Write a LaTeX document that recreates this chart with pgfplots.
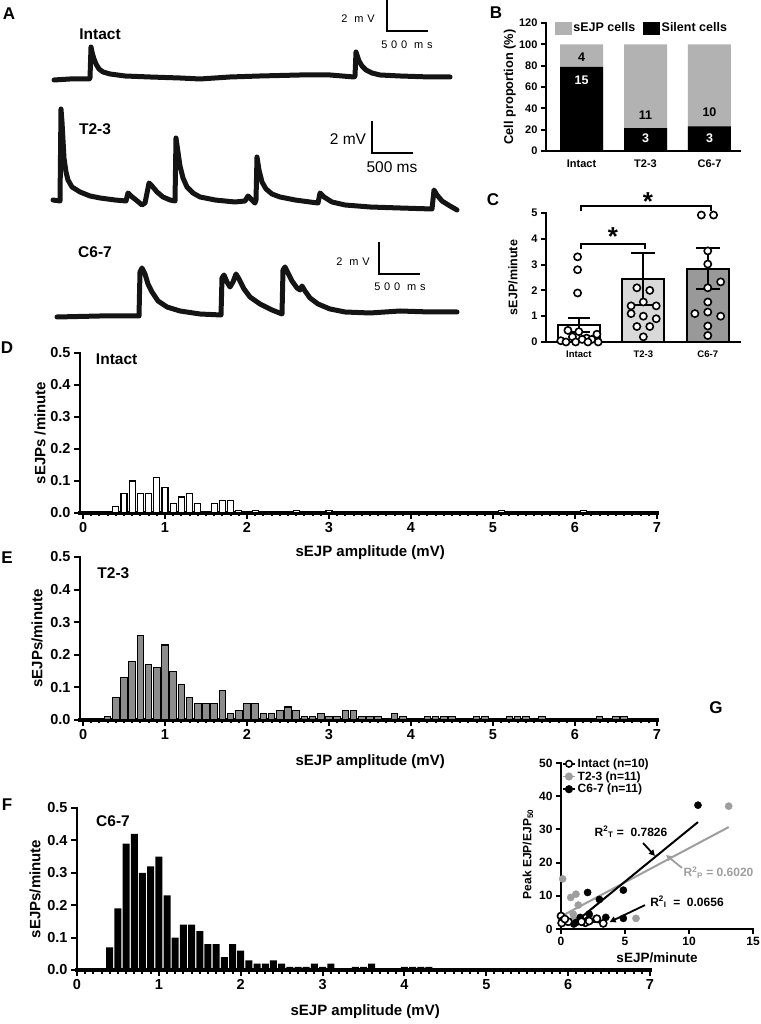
\documentclass[border=0pt]{standalone}
\usepackage{fontspec}
\setmainfont{Liberation Sans}
\newfontfamily\spaced{Liberation Sans}[LetterSpace=35]
\usepackage{pgfplots}
\pgfplotsset{compat=1.18}
\usetikzlibrary{arrows.meta}
\newcommand{\fs}[1]{\fontsize{#1}{#1}\selectfont}
\definecolor{sejp}{gray}{0.70}
\definecolor{tgray}{gray}{0.85}
\definecolor{cgray}{gray}{0.60}
\definecolor{egray}{gray}{0.55}
\definecolor{ggray}{gray}{0.62}
\pgfplotsset{
  base/.style={scale only axis, axis lines=left, axis line style={-, line width=2.5pt, line cap=rect},
    tick style={black, line width=2pt}, tick align=outside, major tick length=5pt, minor tick length=3pt,
    clip=false, /pgf/number format/assume math mode=true},
  hist/.style={base, width=577pt, height=160pt, xmin=-0.037, xmax=7, ymin=0, ymax=0.5,
    xtick={0,1,2,3,4,5,6,7}, minor x tick num=9, ytick={0,0.1,0.2,0.3,0.4,0.5},
    yticklabel style={/pgf/number format/.cd, fixed, fixed zerofill, precision=1},
    tick label style={font=\fs{14.5}\bfseries}, label style={font=\fs{15}\bfseries},
    x axis line style={line width=3.5pt}, xlabel={sEJP amplitude (mV)},
    major tick length=6pt, minor tick length=3.5pt},
  trace/.style={black!92, line width=5pt, line join=round, line cap=round},
  sbar/.style={black, line width=2pt, line cap=rect},
}
\begin{document}
\begin{tikzpicture}
\path[use as bounding box] (0pt,0pt) rectangle (760pt,1024pt);
% panel letters
\node[font=\fs{17}\bfseries] at (9pt,1010pt) {A};
\node[font=\fs{17}\bfseries] at (496pt,1011pt) {B};
\node[font=\fs{17}\bfseries] at (493pt,824pt) {C};
\node[font=\fs{17}\bfseries] at (7pt,676pt) {D};
\node[font=\fs{17}\bfseries] at (7pt,466pt) {E};
\node[font=\fs{17}\bfseries] at (7pt,219pt) {F};
\node[font=\fs{17}\bfseries] at (716pt,316pt) {G};

%================ A: traces (pixel-grid units)
\begin{axis}[at={(0pt,694pt)}, anchor=south west, scale only axis, width=470pt, height=330pt,
  xmin=0, xmax=470, ymin=0, ymax=330, y dir=reverse, axis lines=none, clip=false]
\addplot[trace] coordinates {(54,80) (70,79) (89,79) (90,78) (91,47) (92,52) (94,59) (96,64) (99,69) (103,72) (110,74) (125,76) (150,77) (180,78) (200,79) (230,77) (260,76) (300,75) (330,75) (354,77) (355,76) (356,52) (357,55) (359,61) (362,66) (366,70) (372,73) (380,75) (400,76) (430,77) (450,77)};
\addplot[trace] coordinates {(53,200) (60,201) (61,109) (62,122) (63,140) (64,158) (66,172) (68,180) (72,187) (80,192) (90,196) (100,198) (115,200) (126,201) (128,193) (131,196) (136,200) (142,205) (145,203) (147,193) (149,183) (152,186) (157,192) (163,197) (170,200) (175,201) (176,138) (178,152) (180,166) (183,178) (187,187) (193,193) (200,197) (215,200) (235,202) (245,201) (248,196) (251,199) (255,203) (256,200) (257,157) (259,170) (262,182) (266,189) (272,194) (280,197) (295,200) (310,202) (318,203) (320,193) (324,197) (332,202) (345,205) (370,207) (400,208) (432,209) (434,190) (437,195) (442,201) (450,206) (457,210)};
\addplot[trace] coordinates {(57,317) (100,316) (139,316) (140,272) (142,268) (145,274) (148,284) (152,292) (158,301) (167,307) (180,311) (200,314) (221,315) (222,278) (224,275) (227,282) (230,287) (233,282) (236,274) (239,279) (244,289) (250,297) (260,304) (272,310) (282,314) (283,270) (285,267) (288,273) (292,281) (297,288) (300,290) (302,286) (305,291) (310,298) (318,304) (330,309) (345,312) (370,313) (400,311) (430,312) (457,312)};
\addplot[sbar] coordinates {(387,1) (387,31) (427,31)};
\addplot[sbar] coordinates {(372,122) (372,153) (412,153)};
\addplot[sbar] coordinates {(379,243) (379,274) (419,274)};
\node[font=\fs{11}\spaced] at (axis cs:358,19) {2 mV};
\node[font=\fs{11}\spaced] at (axis cs:407,45) {500 ms};
\node[font=\fs{15.5}] at (axis cs:348,139) {2 mV};
\node[font=\fs{15.5}] at (axis cs:392,167) {500 ms};
\node[font=\fs{11}\spaced] at (axis cs:353,262) {2 mV};
\node[font=\fs{11}\spaced] at (axis cs:400,287) {500 ms};
\node[font=\fs{15.5}\bfseries] at (axis cs:100,34) {Intact};
\node[font=\fs{15.5}\bfseries] at (axis cs:95,129) {T2-3};
\node[font=\fs{15.5}\bfseries] at (axis cs:95,252) {C6-7};
\end{axis}

%================ B
\begin{axis}[base, at={(546pt,873pt)}, anchor=south west, width=194pt, height=128pt,
  xmin=-0.555, xmax=2.477, ymin=0, ymax=120, ytick={0,20,40,60,80,100,120},
  xtick={0,1,2}, xticklabels={Intact,T2-3,C6-7}, xtick style={draw=none},
  tick label style={font=\fs{11}\bfseries},
  ylabel={Cell proportion (\%)}, ylabel style={font=\fs{12.8}\bfseries, at={(axis description cs:-0.186,0.5)}, anchor=center},
  legend style={at={(axis description cs:0.03,1.035)}, anchor=north west, draw=none, fill=none,
    legend columns=2, font=\fs{12.5}\bfseries, /tikz/every even column/.append style={column sep=6pt}},
  ]
% sEJP cells (gray) fill the column to 100 %, silent cells (black) drawn over the lower part
\addplot[ybar, bar shift=0pt, bar width=43pt, fill=sejp, draw=none, forget plot] coordinates {(0,100) (1,100) (2,100)};
\addplot[ybar, bar shift=0pt, bar width=43pt, fill=black, draw=none, forget plot] coordinates {(0,78.95) (1,21.43) (2,23.08)};
\addlegendimage{legend image code/.code={\fill[sejp] (0pt,-6pt) rectangle (16pt,6pt);}}
\addlegendentry{sEJP cells}
\addlegendimage{legend image code/.code={\fill[black] (0pt,-6pt) rectangle (16pt,6pt);}}
\addlegendentry{Silent cells}
\node[font=\fs{12.5}\bfseries, black] at (axis cs:0,88) {4};
\node[font=\fs{12.5}\bfseries, white] at (axis cs:0,66) {15};
\node[font=\fs{12.5}\bfseries, black] at (axis cs:1,34) {11};
\node[font=\fs{12.5}\bfseries, white] at (axis cs:1,12) {3};
\node[font=\fs{12.5}\bfseries, black] at (axis cs:2,36) {10};
\node[font=\fs{12.5}\bfseries, white] at (axis cs:2,12) {3};
\end{axis}

%================ C
\begin{axis}[base, at={(546pt,682pt)}, anchor=south west, width=194pt, height=129pt,
  xmin=-0.51, xmax=2.5, ymin=0, ymax=5, ytick={0,1,2,3,4,5},
  xtick={0,1,2}, xticklabels={Intact,T2-3,C6-7}, xtick style={draw=none},
  yticklabel style={font=\fs{11}\bfseries}, xticklabel style={font=\fs{9.5}\bfseries},
  ylabel={sEJP/minute}, ylabel style={font=\fs{12.5}\bfseries, at={(axis description cs:-0.17,0.5)}, anchor=center},
  ]
\addplot[ybar, bar shift=0pt, bar width=42pt, fill=white, draw=black, line width=2pt] coordinates {(0,0.65)};
\addplot[ybar, bar shift=0pt, bar width=42pt, fill=tgray, draw=black, line width=2pt] coordinates {(1,2.44)};
\addplot[ybar, bar shift=0pt, bar width=42pt, fill=cgray, draw=black, line width=2pt] coordinates {(2,2.83)};
\addplot[only marks, mark=*, mark size=3.6pt, mark options={fill=white, draw=black, line width=1.6pt}] coordinates {
 (-0.02,3.3) (-0.02,2.8) (-0.02,1.9) (-0.17,0.45) (0.0,0.4) (0.28,0.3) (-0.1,0.2) (0.12,0.15) (0.2,0.1) (-0.28,0.05) (0.05,0.1) (-0.2,0.0) (-0.05,0.0) (0.14,0.0) (0.3,0.0)
 (0.9,2.1) (1.1,2.0) (1.0,1.55) (0.81,1.4) (1.2,1.4) (0.81,1.1) (1.0,1.0) (1.2,0.9) (0.9,0.6) (1.1,0.6) (1.0,0.2)
 (1.9,4.92) (2.09,4.92) (2.0,3.53) (2.0,3.02) (2.2,2.33) (2.0,2.1) (2.0,1.55) (2.0,1.16) (1.8,1.1) (2.2,1.0) (2.0,0.62) (2.0,0.25)};
\addplot[sbar] coordinates {(0,0.37) (0,0.93)};
\addplot[sbar] coordinates {(-0.16,0.93) (0.16,0.93)};
\addplot[sbar] coordinates {(-0.16,0.37) (0.16,0.37)};
\addplot[sbar] coordinates {(1,1.45) (1,3.43)};
\addplot[sbar] coordinates {(0.83,3.43) (1.17,3.43)};
\addplot[sbar] coordinates {(0.83,1.45) (1.17,1.45)};
\addplot[sbar] coordinates {(2,2.05) (2,3.65)};
\addplot[sbar] coordinates {(1.83,3.65) (2.17,3.65)};
\addplot[sbar] coordinates {(1.83,2.05) (2.17,2.05)};
\addplot[sbar] coordinates {(0.03,3.64) (0.03,3.8) (1.02,3.8) (1.02,3.64)};
\addplot[sbar] coordinates {(0.03,5.12) (0.03,5.27) (2.05,5.27) (2.05,5.12)};
\node[font=\fs{26}\bfseries] at (axis cs:0.53,4.1) {*};
\node[font=\fs{26}\bfseries] at (axis cs:1.07,5.46) {*};
\end{axis}

%================ D
\begin{axis}[hist, at={(80pt,511pt)}, anchor=south west, height=160pt,
  ylabel={sEJPs /minute},
  xlabel style={at={(axis description cs:0.503,-0.25)}, anchor=center},
  ylabel style={at={(axis description cs:-0.069,0.5)}, anchor=center}]
\addplot[ybar, bar shift=0pt, bar width=6pt, fill=white, draw=black, line width=1.1pt] coordinates {
 (0.4,0.02) (0.5,0.06) (0.6,0.10) (0.7,0.06) (0.8,0.06) (0.9,0.11) (1.0,0.08) (1.1,0.03) (1.2,0.05) (1.3,0.06) (1.4,0.03) (1.6,0.03) (1.7,0.04) (1.8,0.04) (1.9,0.008) (2.1,0.008) (2.6,0.008) (3.0,0.008) (5.1,0.008) (6.1,0.008)};
\node[font=\fs{15.5}\bfseries] at (axis cs:0.41,0.48) {Intact};
\end{axis}

%================ E
\begin{axis}[hist, at={(80pt,304pt)}, anchor=south west, height=163pt,
  ylabel={sEJPs/minute},
  xlabel style={at={(axis description cs:0.503,-0.258)}, anchor=center},
  ylabel style={at={(axis description cs:-0.0745,0.5)}, anchor=center}]
\addplot[ybar, bar shift=0pt, bar width=6.6pt, fill=egray, draw=black, line width=1.1pt] coordinates {
 (0.3,0.01) (0.4,0.07) (0.5,0.13) (0.6,0.18) (0.7,0.26) (0.8,0.17) (0.9,0.16) (1.0,0.23) (1.1,0.15) (1.2,0.11) (1.3,0.07) (1.4,0.05) (1.5,0.05) (1.6,0.05) (1.7,0.09) (1.8,0.02) (1.9,0.03) (2.0,0.05) (2.1,0.05) (2.2,0.02) (2.3,0.02) (2.4,0.03) (2.5,0.04) (2.6,0.03) (2.7,0.01) (2.8,0.01) (2.9,0.02) (3.0,0.01) (3.1,0.01) (3.2,0.03) (3.3,0.03) (3.4,0.01) (3.5,0.01) (3.6,0.01) (3.8,0.02) (3.9,0.01) (4.2,0.01) (4.3,0.01) (4.4,0.01) (4.5,0.01) (4.8,0.01) (4.9,0.01) (5.2,0.01) (5.3,0.01) (5.4,0.01) (5.6,0.01) (6.3,0.01) (6.5,0.01) (6.6,0.01)};
\node[font=\fs{15.5}\bfseries] at (axis cs:0.37,0.45) {T2-3};
\end{axis}

%================ F
\begin{axis}[hist, at={(77pt,54pt)}, anchor=south west, width=573pt, height=162pt, xmin=0,
  ylabel={sEJPs/minute},
  xlabel style={at={(axis description cs:0.503,-0.259)}, anchor=center},
  ylabel style={at={(axis description cs:-0.073,0.5)}, anchor=center}]
\addplot[ybar, bar shift=0pt, bar width=7pt, fill=black, draw=none] coordinates {
 (0.4,0.07) (0.5,0.19) (0.6,0.39) (0.7,0.42) (0.8,0.30) (0.9,0.32) (1.0,0.35) (1.1,0.23) (1.2,0.10) (1.3,0.14) (1.4,0.14) (1.5,0.12) (1.6,0.08) (1.7,0.08) (1.8,0.04) (1.9,0.08) (2.0,0.06) (2.1,0.03) (2.2,0.02) (2.3,0.02) (2.4,0.03) (2.5,0.02) (2.6,0.01) (2.7,0.01) (2.8,0.01) (2.9,0.02) (3.0,0.01) (3.1,0.02) (3.4,0.01) (3.5,0.01) (3.6,0.02) (4.0,0.01) (4.1,0.01) (4.2,0.01) (4.3,0.01)};
\node[font=\fs{15.5}\bfseries] at (axis cs:0.44,0.46) {C6-7};
\end{axis}

%================ G
\begin{axis}[base, at={(561pt,95pt)}, anchor=south west, width=192pt, height=166pt,
  xmin=0, xmax=15, ymin=0, ymax=50, xtick={0,5,10,15}, ytick={0,10,20,30,40,50},
  tick label style={font=\fs{12}\bfseries},
  xlabel={sEJP/minute}, xlabel style={font=\fs{13.5}\bfseries, at={(axis description cs:0.5,-0.175)}, anchor=center},
  ylabel={Peak EJP/EJP\textsubscript{50}}, ylabel style={font=\fs{12}\bfseries, at={(axis description cs:-0.172,0.45)}, anchor=center},
  legend style={at={(axis description cs:0.0,1.045)}, anchor=north west, draw=none, fill=none, font=\fs{12}\bfseries, row sep=-1.5pt, inner sep=1pt},
  legend cell align=left,
  legend image code/.code={\draw[mark repeat=2,mark phase=2,#1] plot coordinates {(0pt,0pt) (6pt,0pt) (12pt,0pt)};},
  ]
\addlegendimage{black, line width=1.5pt, mark=*, mark size=3.3pt, mark options={fill=white, line width=1.5pt}}
\addlegendentry{Intact (n=10)}
\addlegendimage{ggray, line width=1.5pt, mark=*, mark size=3.3pt}
\addlegendentry{T2-3 (n=11)}
\addlegendimage{black, line width=1.5pt, mark=*, mark size=3.3pt}
\addlegendentry{C6-7 (n=11)}
\addplot[ggray, line width=2pt, forget plot] coordinates {(0.1,4.0) (13.1,30.7)};
\addplot[black, line width=2pt, forget plot] coordinates {(1.0,1.7) (10.7,32.2)};
\addplot[black, line width=1.5pt, forget plot] coordinates {(0,2.8) (3.3,1.9)};
\addplot[only marks, mark=*, mark size=3.6pt, ggray, forget plot] coordinates {(0.13,15.1) (0.76,9.5) (1.17,10.5) (1.35,7.2) (0.95,4.5) (5.86,3.2) (13.1,37.0) (1.0,3.0) (1.5,2.5) (2.3,3.5) (0.5,2.0)};
\addplot[only marks, mark=*, mark size=3.6pt, black, forget plot] coordinates {(2.08,11.0) (3.0,8.9) (4.87,11.7) (3.5,3.5) (4.87,3.2) (1.5,3.5) (2.2,4.5) (10.7,37.3) (2.0,2.5) (1.2,2.0) (1.0,1.5)};
\addplot[only marks, mark=*, mark size=3.6pt, mark options={fill=white, draw=black, line width=1.6pt}, forget plot] coordinates {(0.0,3.9) (0.13,2.5) (0.57,2.2) (1.9,1.9) (2.8,3.1) (3.3,1.7) (0.05,1.8) (0.3,3.0) (1.6,2.2) (2.2,2.4)};
\node[font=\fs{12}\bfseries, anchor=west] at (axis cs:2.35,29.2) {R\textsuperscript{2}\textsubscript{T} =\ \ 0.7826};
\node[font=\fs{12}\bfseries, anchor=west, ggray] at (axis cs:9.3,16.9) {R\textsuperscript{2}\textsubscript{P} = 0.6020};
\node[font=\fs{12}\bfseries, anchor=west] at (axis cs:6.7,8.1) {R\textsuperscript{2}\textsubscript{I} \ =\ \ 0.0656};
\draw[black, line width=1.8pt, -{Triangle[length=6pt,width=6pt]}] (axis cs:6.41,25.9) -- (axis cs:7.34,22.0);
\draw[ggray, line width=1.8pt, -{Triangle[length=6pt,width=6pt]}] (axis cs:9.45,18.4) -- (axis cs:8.2,22.3);
\draw[black, line width=1.8pt, -{Triangle[length=6pt,width=6pt]}] (axis cs:6.56,7.2) -- (axis cs:3.8,2.1);
\end{axis}
\end{tikzpicture}
\end{document}
